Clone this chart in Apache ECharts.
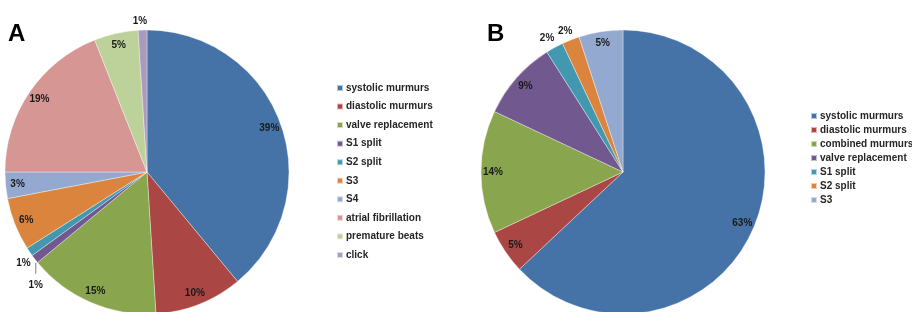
<!DOCTYPE html>
<html>
<head>
    <meta charset="utf-8" />
    <title>murmurs pie</title>
    <style>
        html, body { margin: 0; padding: 0; background: #fff; }
        #chart { width: 912px; height: 312px; }
    </style>
</head>
<body>
    <div id="chart"></div>
    <script src="https://cdn.jsdelivr.net/npm/echarts@6/dist/echarts.min.js"></script>
    <script>
        // 数据 A
        var namesA = ['systolic murmurs', 'diastolic murmurs', 'valve replacement', 'S1 split', 'S2 split',
            'S3', 'S4', 'atrial fibrillation', 'premature beats', 'click'];
        var valuesA = [39, 10, 15, 1, 1, 6, 3, 19, 5, 1];
        // 数据 B
        var namesB = ['systolic murmurs', 'diastolic murmurs', 'combined murmurs', 'valve replacement',
            'S1 split', 'S2 split', 'S3'];
        var valuesB = [63, 5, 14, 9, 2, 2, 5];

        // 颜色 (Excel 风格)
        var colorsA = ['#4572a7', '#aa4643', '#89a54e', '#71588f', '#4198af', '#db843d', '#93a9cf', '#d69693', '#bcd29a', '#a99bbd'];
        var colorsB = ['#4572a7', '#aa4643', '#89a54e', '#71588f', '#4198af', '#db843d', '#93a9cf'];

        var R = 142;
        var font = 'Liberation Sans, Arial, sans-serif';
        var labelFont = { fontSize: 10, fontWeight: 'bold', color: '#1a1a1a', fontFamily: font };

        // 小扇区放到外面
        var outsideA = {
            3: { length: 42, d: -41.4, line: true },
            4: { length: 20, d: -17.6, line: false },
            9: { length: 9, d: -5, line: false }
        };
        var outsideB = {
            4: { length: 11, d: -5, line: false },
            5: { length: 9, d: -5, line: false }
        };

        function sliceData(names, values, colors) {
            return names.map(function (n, i) {
                return { name: n, value: values[i], itemStyle: { color: colors[i] } };
            });
        }

        function labelData(names, values, outside) {
            return names.map(function (n, i) {
                var item = { name: n, value: values[i] };
                var o = outside[i];
                if (o) {
                    item.label = { position: 'outside', distanceToLabelLine: o.d };
                    item.labelLine = { show: o.line, length: o.length, length2: 0 };
                }
                return item;
            });
        }

        // 竖直引线: 从标签正上方往上画
        function verticalLeader(params) {
            if (params.labelLinePoints) {
                var r = params.labelRect;
                var x = r.x + r.width / 2;
                return { labelLinePoints: [[x, r.y - 17], [x, r.y - 6]] };
            }
        }

        function labelSeries(names, values, outside, center, layoutFn) {
            return {
                type: 'pie',
                center: center,
                radius: [112, R],
                silent: true,
                z: 5,
                avoidLabelOverlap: false,
                itemStyle: { color: 'rgba(0,0,0,0)', borderWidth: 0 },
                label: Object.assign({ show: true, position: 'inside', formatter: '{c}%' }, labelFont),
                labelLine: { lineStyle: { color: '#7f7f7f', width: 1 } },
                labelLayout: layoutFn,
                data: labelData(names, values, outside)
            };
        }

        function legendOf(names, colors, left, top, gap) {
            return {
                orient: 'vertical',
                left: left,
                top: top,
                icon: 'rect',
                itemWidth: 6,
                itemHeight: 6,
                itemGap: gap,
                padding: 0,
                selectedMode: false,
                data: names.map(function (n, i) {
                    return { name: n, itemStyle: { color: colors[i] } };
                }),
                textStyle: { fontSize: 10, fontWeight: 'bold', color: '#262626', fontFamily: font, lineHeight: 12, padding: [0, 0, 0, -2] }
            };
        }

        var myChart = echarts.init(document.getElementById('chart'));
        var option = {
            backgroundColor: '#fff',
            animation: false,
            title: [
                { text: 'A', left: 8, top: 22, padding: 0, textStyle: { fontSize: 24, fontWeight: 'bold', color: '#000', fontFamily: font } },
                { text: 'B', left: 487, top: 22, padding: 0, textStyle: { fontSize: 24, fontWeight: 'bold', color: '#000', fontFamily: font } }
            ],
            legend: [
                legendOf(namesA, colorsA, 336, 82, 6.55),
                legendOf(namesB, colorsB, 810, 110, 2)
            ],
            series: [
                {
                    type: 'pie',
                    center: [147, 172],
                    radius: [0, R],
                    label: { show: false },
                    labelLine: { show: false },
                    itemStyle: { borderColor: 'rgba(255,255,255,0.6)', borderWidth: 0.6 },
                    data: sliceData(namesA, valuesA, colorsA)
                },
                {
                    type: 'pie',
                    center: [623, 172],
                    radius: [0, R],
                    label: { show: false },
                    labelLine: { show: false },
                    itemStyle: { borderColor: 'rgba(255,255,255,0.6)', borderWidth: 0.6 },
                    data: sliceData(namesB, valuesB, colorsB)
                },
                labelSeries(namesA, valuesA, outsideA, [147, 172], verticalLeader),
                labelSeries(namesB, valuesB, outsideB, [623, 172], null)
            ]
        };
        myChart.setOption(option);
    </script>
</body>
</html>
